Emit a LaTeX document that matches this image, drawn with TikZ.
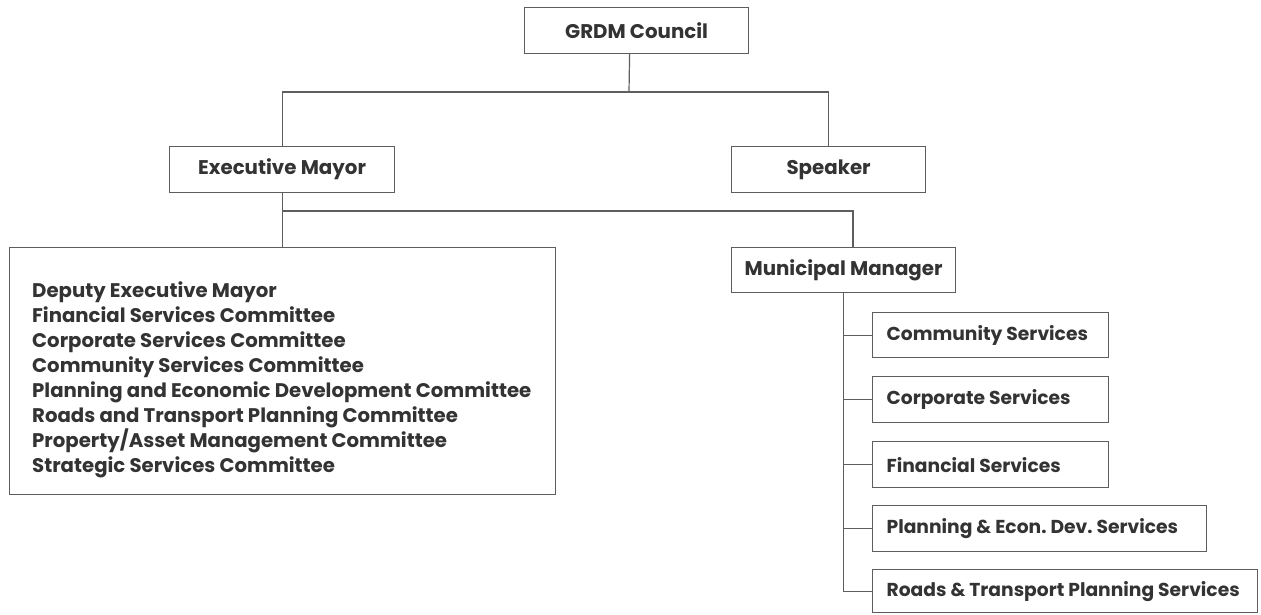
\documentclass[tikz,border=0pt]{standalone}
\usepackage{fontspec}
\setmainfont{Poppins}
\definecolor{txt}{HTML}{333333}
\definecolor{ln}{HTML}{5E5E5E}
\tikzset{
  orgfont/.style={text=txt, font=\fontsize{19.8}{25}\selectfont\bfseries\frenchspacing},
  orgbox/.style={draw=ln, line width=1.2pt, fill=white, anchor=north west, inner sep=0pt, orgfont},
  leftbox/.style={orgbox, inner xsep=14pt, font=\fontsize{18.7}{25}\selectfont\bfseries\frenchspacing},
  conn/.style={draw=ln, line width=1.2pt}
}
\newcommand{\lft}[2]{\makebox[#1][l]{#2}}
\begin{document}
\begin{tikzpicture}[x=1pt,y=-1pt]
\useasboundingbox[fill=white] (0,0) rectangle (1261,614);
\node[orgbox, minimum width=224pt, minimum height=46pt] (council) at (524,7) {GRDM Council};
\node[orgbox, minimum width=225pt, minimum height=46pt] (mayor) at (169,146) {Executive Mayor};
\node[orgbox, minimum width=194pt, minimum height=46pt] (speaker) at (731,146) {Speaker};
\node[orgbox, minimum width=546pt, minimum height=247pt] (committees) at (9,247) {};
\node[anchor=north west, inner sep=0pt, align=left, orgfont, font=\fontsize{19.7}{25}\selectfont\bfseries] (list) at (32,281.5)
 {Deputy Executive Mayor\\
  Financial Services Committee\\
  Corporate Services Committee\\
  Community Services Committee\\
  Planning and Economic Development Committee\\
  Roads and Transport Planning Committee\\
  Property/Asset Management Committee\\
  Strategic Services Committee};
\node[orgbox, minimum width=224pt, minimum height=45pt] (manager) at (731,247) {Municipal Manager};
\node[leftbox, minimum height=45pt] (community) at (872,312) {\lft{208pt}{Community Services}};
\node[leftbox, minimum height=46pt] (corporate) at (872,376) {\lft{208pt}{Corporate Services}};
\node[leftbox, minimum height=46pt] (financial) at (872,441) {\lft{208pt}{Financial Services}};
\node[leftbox, minimum height=46pt] (planning) at (872,505) {\lft{306pt}{Planning \& Econ. Dev. Services}};
\node[leftbox, minimum height=43pt] (roads) at (872,569) {\lft{357pt}{Roads \& Transport Planning Services}};
\coordinate (bus1) at (629,92);
\coordinate (bus2) at (853,211);
\draw[conn] ([xshift=-7pt]council.south) -- (bus1);
\draw[conn] (mayor.north) -- (mayor.north |- bus1) -- (speaker.north |- bus1) -- (speaker.north);
\draw[conn] (mayor.south) -- (mayor.south |- committees.north);
\draw[conn] (mayor.south |- bus2) -- (bus2) -- (bus2 |- manager.north);
\draw[conn] (manager.south) -- (manager.south |- roads.west) -- (roads.west);
\foreach \n in {community,corporate,financial,planning}
  \draw[conn] (manager.south |- \n.west) -- (\n.west);
\end{tikzpicture}
\end{document}
